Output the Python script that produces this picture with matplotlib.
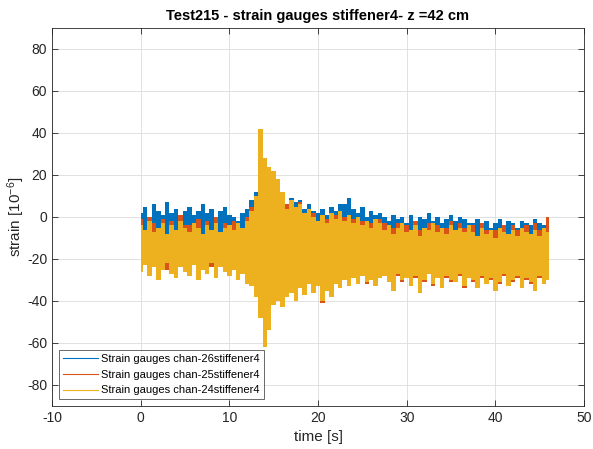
import numpy as np
import matplotlib.pyplot as plt

plt.rcParams['font.family'] = ['Liberation Sans', 'DejaVu Sans']
plt.rcParams['axes.unicode_minus'] = False
plt.rcParams['mathtext.fontset'] = 'custom'
plt.rcParams['mathtext.rm'] = 'Liberation Sans'
plt.rcParams['mathtext.it'] = 'Liberation Sans:italic'

# envelope values, one pair every 0.5 s (t = 0 ... 46 s)
t_start, t_step = 0.0, 0.5

blue_hi = [2, 5, 0, 6, 3, 1, 7, 2, 4, 0, 3,
           5, 1, 3, 6, 2, 4, 0, 3, 5, 1,
           0, -2, 2, 4,
           8, 12, 42, 28, 24, 22, 18, 12, 6, 9, 7, 8, 4, 6, 3, 2, 4, 1, 5, 3, 6, 6, 9,
           4, 2, 5, 0, 3, 1, 2,
           0, -2, 1, -1, 0, -3, 1, -2, 0, -1, 2, -2, 0, -3, -1, 1, -2, 0, -1, -3,
           -3, -1, -4, -2, -5, -3, -1, -4, -2, -3, -5, -2, -3, -4, -1, -3, -4, -2]
blue_lo = [-20, -22, -19, -23, -21, -24, -20, -22, -25, -21, -23,
           -22, -20, -24, -21, -23, -19, -25, -22, -20, -24,
           -22, -25, -23, -27,
           -30, -35, -45, -58, -50, -40, -37, -40, -35, -33, -36, -31, -34, -29, -33, -30, -36, -32, -35, -29, -31, -27, -30,
           -26, -28, -25, -27, -26, -29, -25,
           -24, -27, -30, -23, -26, -25, -28, -24, -31, -26, -23, -28, -25, -29, -24, -26, -27, -23, -28, -25,
           -26, -29, -24, -28, -25, -30, -27, -23, -29, -26, -24, -30, -25, -27, -31, -24, -28, -26]

red_hi = [-1, -7, 0, -3, -6, -1, -9, -2, -7, 1, -4,
          -4, -4, -1, -9, -2, -7, 0, -8, -3, -5,
          -2, -4, -6, 0,
          5, 8, 40, 27, 20, 21, 15, 10, 6, 6, 4, 7, 0, 3, 2, -3, 0, -1, 1, 1, 2, 0, -1,
          -1, -2, -2, -3, -3, -2, -1,
          -3, -5, -5, -3, -4, -4, -7, -2, -6, -6, -3, -4, -4, -6, -5, -2, -7, -3, -5, -5,
          -4, -10, -3, -6, -7, -6, -6, -4, -9, -4, -6, -6, -4, -9, -3, -6, -6, 0]
red_lo = [-24, -21, -27, -23, -28, -22, -25, -26, -27, -22, -25,
          -27, -22, -28, -23, -26, -24, -28, -23, -25, -27,
          -24, -29, -26, -31,
          -32, -37, -47, -60, -52, -41, -39, -42, -37, -35, -39, -33, -36, -31, -35, -32, -41, -34, -37, -31, -33, -29, -32,
          -28, -31, -27, -32, -29, -32, -28,
          -27, -30, -33, -28, -31, -27, -32, -29, -34, -31, -26, -33, -28, -32, -29, -31, -30, -28, -34, -28,
          -31, -33, -29, -31, -30, -34, -32, -28, -32, -31, -29, -33, -30, -32, -34, -29, -31, -29]

yellow_hi = [-4, -6, -2, -7, -5, -3, -8, -4, -6, -2, -5,
             -7, -3, -5, -8, -4, -6, -3, -7, -5, -4,
             -6, -3, -5, -2,
             3, 10, 42, 28, 24, 22, 18, 12, 4, 8, 5, 6, 2, 4, 0, -2, 1, -3, 2, -1, 3, -2, 1,
             -3, 0, -4, -2, -5, -1, -3,
             -6, -4, -8, -5, -3, -7, -6, -4, -9, -5, -6, -3, -7, -5, -8, -4, -6, -5, -7, -4,
             -7, -9, -5, -8, -6, -10, -5, -7, -8, -6, -9, -5, -7, -8, -6, -9, -5, -7]
yellow_lo = [-26, -23, -28, -24, -30, -25, -22, -27, -29, -24, -26,
             -28, -23, -30, -25, -27, -22, -29, -24, -26, -28,
             -25, -30, -27, -32,
             -33, -38, -48, -62, -54, -42, -40, -43, -38, -36, -40, -34, -37, -32, -36, -33, -40, -35, -38, -32, -34, -30, -33,
             -29, -32, -28, -31, -30, -33, -29,
             -28, -31, -35, -27, -30, -29, -33, -28, -36, -30, -27, -32, -29, -34, -28, -30, -31, -27, -33, -29,
             -30, -34, -28, -32, -29, -35, -31, -27, -33, -30, -28, -34, -29, -31, -35, -28, -32, -30]

labels = ['Strain gauges chan-26stiffener4',
          'Strain gauges chan-25stiffener4',
          'Strain gauges chan-24stiffener4']
colors = ['#0072BD', '#D95319', '#EDB120']

fig = plt.figure(figsize=(5.93, 4.49), dpi=100)
ax = fig.add_axes([52 / 593, 43 / 449, 532 / 593, 378 / 449])

# the signals are so dense that they read as a band between their peaks
for (hi, lo), lab, c in zip([(blue_hi, blue_lo), (red_hi, red_lo), (yellow_hi, yellow_lo)],
                            labels, colors):
    t = t_start + t_step * np.arange(len(hi))
    ax.fill_between(t, lo, hi, step='mid', color=c, lw=0)
    ax.plot([], [], color=c, lw=0.8, label=lab)

ax.set_xlim(-10, 50)
ax.set_ylim(-90, 90)
ax.set_xticks(np.arange(-10, 51, 10))
ax.set_yticks(np.arange(-80, 81, 20))
ax.grid(True, color='#dcdcdc', lw=0.6)
ax.set_axisbelow(True)
for s in ax.spines.values():
    s.set_color('#262626')
    s.set_linewidth(0.6)
ax.tick_params(direction='in', length=4, width=0.6, colors='#262626', labelsize=10,
               top=True, right=True)
ax.tick_params(labeltop=False, labelright=False)

ax.set_title('Test215 - strain gauges stiffener4- z =42 cm', fontsize=10.5,
             fontweight='bold', pad=6)
ax.set_xlabel('time [s]', fontsize=11, color='#262626')
ax.set_ylabel('strain [10$^{-6}$]', fontsize=11, color='#262626', labelpad=0)

leg = ax.legend(loc='lower left', fontsize=8, frameon=True, fancybox=False,
                edgecolor='#262626', borderaxespad=0.6, handlelength=3.2,
                borderpad=0.35, labelspacing=0.5, handletextpad=0.3)
leg.get_frame().set_linewidth(0.6)

fig.savefig('out.png', dpi=100)
